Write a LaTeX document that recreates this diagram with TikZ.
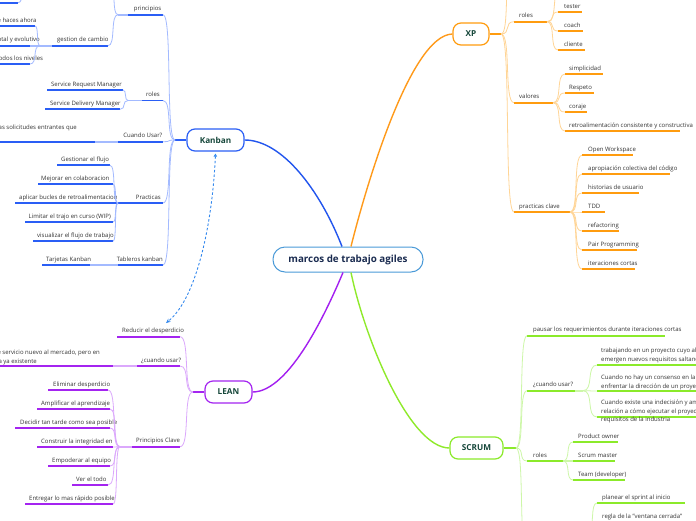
\documentclass[tikz,border=0pt]{standalone}
\usepackage{fontspec}
\setmainfont{Open Sans}
\usetikzlibrary{calc,arrows.meta}
\definecolor{kb}{HTML}{2A5EF5}
\definecolor{kbl}{HTML}{A3BAFF}
\definecolor{kbm}{HTML}{2255EE}
\definecolor{xp}{HTML}{FF9C0F}
\definecolor{xpl}{HTML}{FFD596}
\definecolor{xpm}{HTML}{FF9A1A}
\definecolor{ln}{HTML}{A424F0}
\definecolor{lnl}{HTML}{DBA8FC}
\definecolor{lnm}{HTML}{A31FF0}
\definecolor{sc}{HTML}{8BEA2A}
\definecolor{scl}{HTML}{CDF7A8}
\definecolor{scm}{HTML}{8FEA2B}
\definecolor{rootb}{HTML}{4A9AD8}
\definecolor{rootT}{HTML}{1A2B50}
\definecolor{tx}{HTML}{333333}
\definecolor{hd}{HTML}{16473A}
\definecolor{relc}{HTML}{3388EE}
\tikzset{
 txt/.style={font=\fontsize{6}{8.5}\selectfont, text=tx, inner sep=0pt},
 ul/.style={draw=#1, line width=1.7pt},
 cn/.style={draw=#1, line width=0.8pt, to path={let \p1=(\tikztostart), \p2=(\tikztotarget) in .. controls ({\x1+0.8*(\x2-\x1)},\y1) and ({\x2-0.8*(\x2-\x1)},\y2) .. (\tikztotarget)}},
 stem/.style={draw=#1, line width=1.2pt},
 mainc/.style={draw=#1, line width=1.4pt},
 br/.style={draw=#1, line width=1.2pt, fill=white, rounded corners=8pt, minimum height=22pt, inner sep=0pt, font=\fontsize{8.2}{10}\selectfont\bfseries, text=hd},
 root/.style={draw=rootb, line width=1pt, fill=white, rounded corners=12pt, minimum width=150pt, minimum height=25pt, inner sep=0pt, font=\fontsize{9.8}{12}\selectfont\bfseries, text=rootT},
 rel/.style={draw=relc, line width=0.9pt, dash pattern=on 2.5pt off 2pt, {Triangle[open,length=3pt,width=3.5pt]}-{Stealth[length=4.5pt,width=4pt]}},
}
% name, colour, x1, x2, y, text anchor, text x, text
\newcommand\Tp[8]{%
 \coordinate (#1a) at (#3,#5);
 \coordinate (#1b) at (#4,#5);
 \draw[ul=#2] (#1a) -- (#1b);
 \node[txt, anchor=base #6] (#1) at (#7,#5-4) {#8};
}
\begin{document}
\begin{tikzpicture}[x=1pt,y=-1pt]
\useasboundingbox (0,0) rectangle (696,520);
\clip (0,0) rectangle (696,520);
\fill[white] (0,0) rectangle (696,520);

% central and main nodes
\node[root] (root) at (348,259.5) {marcos de trabajo agiles};
\node[br=kb, minimum width=57pt] (kanban) at (215.5,140) {Kanban};
\node[br=xp, minimum width=36pt] (xp) at (471,34) {XP};
\node[br=ln, minimum width=47pt] (lean) at (228.5,392) {LEAN};
\node[br=sc, minimum width=53pt] (scrum) at (476.5,448) {SCRUM};

\draw[mainc=kbm] ([xshift=-6pt]root.north) .. controls (320,190) and (282,140) .. (kanban.east);
\draw[mainc=xpm] ([xshift=3pt]root.north) .. controls (365,190) and (410,35) .. (xp.west);
\draw[mainc=lnm] ([xshift=-5pt]root.south) .. controls (328,308) and (290,392) .. (lean.east);
\draw[mainc=scm] ([xshift=3pt]root.south) .. controls (365,340) and (410,448) .. (scrum.west);

\coordinate (kbB) at (175,140); \draw[stem=kb] (kanban.west) -- (kbB);
\coordinate (xpB) at (501,34); \draw[stem=xp] (xp.east) -- (xpB);
\coordinate (lnB) at (193,392); \draw[stem=ln] (lean.west) -- (lnB);
\coordinate (scB) at (516,448); \draw[stem=sc] (scrum.east) -- (scB);

% ---------------- Kanban
\Tp{kp}{kb}{128}{163}{14.7}{east}{161.5}{principios}
\coordinate (kpB) at (118,14.7); \draw[ul=kbl] (kpa) -- (kpB);
\draw[cn=kbl] (kbB) to (kpb);
\coordinate (kpUp) at (110,-14); \draw[cn=kbl] (kpB) to (kpUp);
\coordinate (tlA) at (-5,2.7); \coordinate (tlB) at (18,2.7); \draw[ul=kb] (tlA) -- (tlB);
\coordinate (tlUp) at (26,-14); \draw[cn=kbl] (tlB) to (tlUp);

\Tp{kg}{kb}{52}{108}{45.7}{west}{57}{gestion de cambio}
\coordinate (kgB) at (40,45.7); \draw[ul=kbl] (kga) -- (kgB);
\draw[cn=kbl] (kpB) to (kgb);
\Tp{kg1}{kb}{-5}{35}{26}{east}{36.7}{Comienza con lo que haces ahora}
\Tp{kg2}{kb}{-5}{30}{45.7}{east}{40}{Busca un cambio incremental y evolutivo}
\Tp{kg3}{kb}{-5}{30}{64}{east}{43.3}{Fomenta el liderazgo en todos los niveles}
\draw[cn=kbl] (kgB) to (kg1b);
\draw[ul=kbl] (kgB) -- (kg2b);
\draw[cn=kbl] (kgB) to (kg3b);

\Tp{kr}{kb}{142}{163}{100.5}{east}{160}{roles}
\coordinate (krB) at (128,100.5); \draw[ul=kbl] (kra) -- (krB);
\draw[cn=kbl] (kbB) to (krb);
\Tp{kr1}{kb}{47}{123}{90}{west}{51}{Service Request Manager}
\Tp{kr2}{kb}{45}{120}{109.3}{west}{50}{Service Delivery Manager}
\draw[cn=kbl] (krB) to (kr1b);
\draw[cn=kbl] (krB) to (kr2b);

\Tp{kc}{kb}{118}{163}{141.7}{east}{162.5}{Cuando Usar?}
\draw[cn=kbl] (kbB) to (kcb);
\coordinate (kc1a) at (-5,141.7); \coordinate (kc1b) at (95,141.7);
\draw[ul=kb] (kc1a) -- (kc1b);
\draw[ul=kbl] (kca) -- (kc1b);
\node[txt, anchor=base east] (kc1) at (77,129.5) {Visualizar las solicitudes entrantes que};

\Tp{kq}{kb}{118}{163}{203}{east}{161}{Practicas}
\draw[cn=kbl] (kbB) to (kqb);
\Tp{kq1}{kb}{57}{110}{165.3}{west}{61}{Gestionar el flujo}
\Tp{kq2}{kb}{38}{113}{184.3}{west}{41}{Mejorar en colaboracion}
\Tp{kq3}{kb}{15}{118}{203}{west}{19}{aplicar bucles de retroalimentacion}
\Tp{kq4}{kb}{25}{113}{222}{west}{28.5}{Limitar el trajo en curso (WIP)}
\Tp{kq5}{kb}{33}{113}{241.3}{west}{37}{visualizar el flujo de trabajo}
\foreach \i in {1,...,5} {\draw[cn=kbl] (kqa) to (kq\i b);}

\Tp{kt}{kb}{118}{163}{265}{east}{163}{Tableros kanban}
\draw[cn=kbl] (kbB) to (ktb);
\Tp{kt1}{kb}{42}{90}{265}{west}{46}{Tarjetas Kanban}
\draw[ul=kbl] (kta) -- (kt1b);

% relationship
\coordinate (relEnd) at (166,323);
\draw[rel] ([yshift=-2pt]kanban.south) .. controls (212,230) and (195,300) .. (relEnd);

% ---------------- LEAN
\Tp{lr}{ln}{117}{180}{336.7}{west}{122}{Reducir el desperdicio}
\Tp{lc}{ln}{137}{180}{366}{west}{141}{¿cuando usar?}
\Tp{lp}{ln}{132}{180}{446.7}{west}{136}{Principios Clave}
\draw[cn=lnl] (lnB) to (lrb);
\draw[cn=lnl] (lnB) to (lcb);
\draw[cn=lnl] (lnB) to (lpb);
\coordinate (lc1a) at (-5,366); \coordinate (lc1b) at (113,366);
\draw[ul=ln] (lc1a) -- (lc1b);
\draw[ul=lnl] (lca) -- (lc1b);
\node[txt, anchor=base east, align=right] (lc1) at (100,363) {Cuando se busca lanzar un producto de servicio nuevo al mercado, pero en\\una industria ya existente\kern63pt};
\coordinate (lpB) at (120,446.7); \draw[ul=lnl] (lpa) -- (lpB);
\Tp{lp1}{ln}{48}{108}{390}{west}{53}{Eliminar desperdicio}
\Tp{lp2}{ln}{37}{110}{409}{west}{41}{Amplificar el aprendizaje}
\Tp{lp3}{ln}{15}{110}{428}{west}{20}{Decidir tan tarde como sea posible}
\Tp{lp4}{ln}{37}{113}{447}{west}{41}{Construir la integridad en}
\Tp{lp5}{ln}{48}{110}{466}{west}{52}{Empoderar al equipo}
\Tp{lp6}{ln}{72}{108}{485}{west}{76}{Ver el todo}
\Tp{lp7}{ln}{25}{113}{504}{west}{29}{Entregar lo mas rápido posible}
\foreach \i in {1,...,7} {\draw[cn=lnl] (lpB) to (lp\i b);}

% ---------------- XP
\Tp{xr}{xp}{514}{547}{21.7}{west}{519}{roles}
\Tp{xv}{xp}{514}{553}{102.7}{west}{519}{valores}
\Tp{xc}{xp}{514}{570}{212}{west}{519}{practicas clave}
\draw[cn=xpl] (xpB) to (xra);
\draw[cn=xpl] (xpB) to (xva);
\draw[cn=xpl] (xpB) to (xca);
\coordinate (xpUp) at (512,-30); \draw[cn=xpl] (xpB) to (xpUp);
\Tp{xr1}{xp}{558}{582}{12}{west}{564}{tester}
\Tp{xr2}{xp}{558}{583}{31}{west}{564}{coach}
\Tp{xr3}{xp}{558}{585}{50}{west}{564}{cliente}
\coordinate (xrUp) at (562,-14); \draw[cn=xpl] (xrb) to (xrUp);
\foreach \i in {1,2,3} {\draw[cn=xpl] (xrb) to (xr\i a);}
\Tp{xv1}{xp}{565}{603}{74}{west}{569}{simplicidad}
\Tp{xv2}{xp}{565}{594}{93}{west}{569}{Respeto}
\Tp{xv3}{xp}{565}{587}{112}{west}{569}{coraje}
\Tp{xv4}{xp}{565}{680}{131}{west}{569}{retroalimentación consistente y constructiva}
\foreach \i in {1,...,4} {\draw[cn=xpl] (xvb) to (xv\i a);}
\Tp{xc1}{xp}{582}{633}{155.3}{west}{588}{Open Workspace}
\Tp{xc2}{xp}{582}{670}{174}{west}{588}{apropiación colectiva del código}
\Tp{xc3}{xp}{582}{639}{193}{west}{588}{historias de usuario}
\Tp{xc4}{xp}{582}{605}{212}{west}{588}{TDD}
\Tp{xc5}{xp}{582}{619}{231}{west}{588}{refactoring}
\Tp{xc6}{xp}{582}{637}{250}{west}{588}{Pair Programming}
\Tp{xc7}{xp}{582}{635}{269}{west}{588}{iteraciones cortas}
\foreach \i in {1,...,7} {\draw[cn=xpl] (xcb) to (xc\i a);}

% ---------------- SCRUM
\Tp{sp}{sc}{527}{665}{335.7}{west}{533}{pausar los requerimientos durante iteraciones cortas}
\Tp{sq}{sc}{527}{575}{390.7}{west}{533}{¿cuando usar?}
\coordinate (sqB) at (583,390.7); \draw[ul=scl] (sqb) -- (sqB);
\Tp{sr}{sc}{527}{563}{461}{west}{533}{roles}
\coordinate (sbUp) at (527,552);
\draw[cn=scl] (scB) to (spa);
\draw[cn=scl] (scB) to (sqa);
\draw[cn=scl] (scB) to (sra);
\draw[cn=scl] (scB) to (sbUp);
\coordinate (sq1a) at (597,365); \coordinate (sq1b) at (700,365); \draw[ul=sc] (sq1a) -- (sq1b);
\node[txt, anchor=base west, align=left] (sq1) at (601,361) {trabajando en un proyecto cuyo alcance\\emergen nuevos requisitos saltando};
\coordinate (sq2a) at (597,391); \coordinate (sq2b) at (700,391); \draw[ul=sc] (sq2a) -- (sq2b);
\node[txt, anchor=base west, align=left] (sq2) at (601,388) {Cuando no hay un consenso en la realización\\enfrentar la dirección de un proyecto};
\coordinate (sq3a) at (597,417); \coordinate (sq3b) at (700,417); \draw[ul=sc] (sq3a) -- (sq3b);
\node[txt, anchor=base west, align=left] (sq3) at (601,421.5) {Cuando existe una indecisión y ambigüedad en\\relación a cómo ejecutar el proyecto\\requisitos de la industria};
\foreach \i in {1,2,3} {\draw[cn=scl] (sqB) to (sq\i a);}
\Tp{sr1}{sc}{573}{618}{442}{west}{578}{Product owner}
\Tp{sr2}{sc}{573}{615}{461}{west}{578}{Scrum master}
\Tp{sr3}{sc}{573}{625}{480}{west}{578}{Team (developer)}
\draw[cn=scl] (srb) to (sr1a);
\draw[ul=scl] (srb) -- (sr2a);
\draw[cn=scl] (srb) to (sr3a);
\coordinate (sbB) at (588,530);
\Tp{sb1}{sc}{597}{685}{503}{west}{602}{planear el sprint al inicio}
\Tp{sb2}{sc}{597}{690}{522.5}{west}{602}{regla de la "ventana cerrada"}
\draw[cn=scl] (sbB) to (sb1a);
\draw[cn=scl] (sbB) to (sb2a);
\end{tikzpicture}
\end{document}
